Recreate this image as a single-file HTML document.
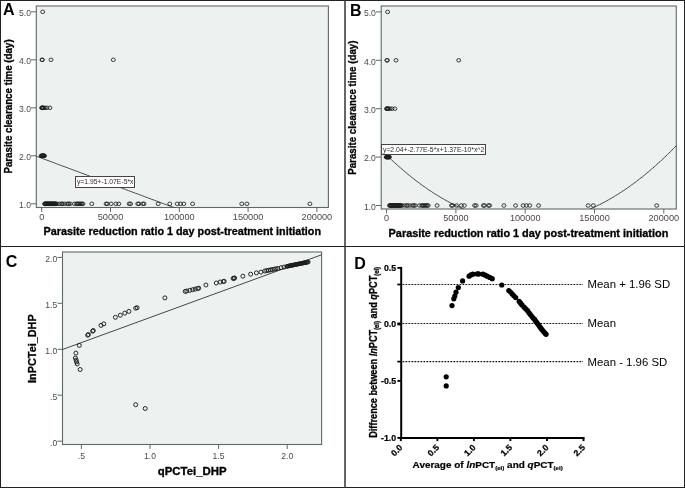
<!DOCTYPE html>
<html><head><meta charset="utf-8"><title>Figure</title>
<style>html,body{margin:0;padding:0;background:#fff;}body{width:685px;height:488px;position:relative;overflow:hidden;font-family:"Liberation Sans",sans-serif;}</style>
</head><body>
<svg width="685" height="488" viewBox="0 0 685 488" style="position:absolute;left:0;top:0;will-change:transform" font-family="Liberation Sans, sans-serif">
<rect x="0" y="0" width="685" height="488" fill="#fff"/>
<rect x="0.5" y="0.5" width="684" height="487" fill="none" stroke="#222" stroke-width="1"/>
<line x1="0" y1="246.5" x2="685" y2="246.5" stroke="#222" stroke-width="1"/>
<line x1="345.0" y1="0" x2="345.0" y2="488" stroke="#333" stroke-width="1.5"/>
<rect x="36.3" y="6.0" width="292.09999999999997" height="201.5" fill="#edf2f1" stroke="#5d686b" stroke-width="1.1"/>
<clipPath id="cpA"><rect x="36.3" y="6.0" width="292.09999999999997" height="201.5"/></clipPath>
<line x1="30.999999999999996" y1="203.8" x2="36.3" y2="203.8" stroke="#5d686b" stroke-width="1"/>
<text x="30.999999999999996" y="208.0" font-size="8.6" fill="#4a4a4a" text-anchor="end">1.0</text>
<line x1="30.999999999999996" y1="155.8" x2="36.3" y2="155.8" stroke="#5d686b" stroke-width="1"/>
<text x="30.999999999999996" y="160.0" font-size="8.6" fill="#4a4a4a" text-anchor="end">2.0</text>
<line x1="30.999999999999996" y1="107.8" x2="36.3" y2="107.8" stroke="#5d686b" stroke-width="1"/>
<text x="30.999999999999996" y="112.0" font-size="8.6" fill="#4a4a4a" text-anchor="end">3.0</text>
<line x1="30.999999999999996" y1="59.8" x2="36.3" y2="59.8" stroke="#5d686b" stroke-width="1"/>
<text x="30.999999999999996" y="64.0" font-size="8.6" fill="#4a4a4a" text-anchor="end">4.0</text>
<line x1="30.999999999999996" y1="11.8" x2="36.3" y2="11.8" stroke="#5d686b" stroke-width="1"/>
<text x="30.999999999999996" y="16.0" font-size="8.6" fill="#4a4a4a" text-anchor="end">5.0</text>
<line x1="41.7" y1="207.5" x2="41.7" y2="212.0" stroke="#5d686b" stroke-width="1"/>
<text transform="translate(41.7,219.9) scale(1.07,1)" font-size="8.6" fill="#4a4a4a" text-anchor="middle">0</text>
<line x1="110.5" y1="207.5" x2="110.5" y2="212.0" stroke="#5d686b" stroke-width="1"/>
<text transform="translate(110.5,219.9) scale(1.07,1)" font-size="8.6" fill="#4a4a4a" text-anchor="middle">50000</text>
<line x1="179.3" y1="207.5" x2="179.3" y2="212.0" stroke="#5d686b" stroke-width="1"/>
<text transform="translate(179.3,219.9) scale(1.07,1)" font-size="8.6" fill="#4a4a4a" text-anchor="middle">100000</text>
<line x1="248.1" y1="207.5" x2="248.1" y2="212.0" stroke="#5d686b" stroke-width="1"/>
<text transform="translate(248.1,219.9) scale(1.07,1)" font-size="8.6" fill="#4a4a4a" text-anchor="middle">150000</text>
<line x1="316.9" y1="207.5" x2="316.9" y2="212.0" stroke="#5d686b" stroke-width="1"/>
<text transform="translate(316.9,219.9) scale(1.07,1)" font-size="8.6" fill="#4a4a4a" text-anchor="middle">200000</text>
<polyline clip-path="url(#cpA)" points="36.3,156.2 37.8,156.7 39.2,157.3 40.7,157.8 42.1,158.4 43.6,158.9 45.1,159.5 46.5,160.0 48.0,160.5 49.4,161.1 50.9,161.6 52.4,162.2 53.8,162.7 55.3,163.3 56.7,163.8 58.2,164.4 59.7,164.9 61.1,165.5 62.6,166.0 64.0,166.5 65.5,167.1 67.0,167.6 68.4,168.2 69.9,168.7 71.4,169.3 72.8,169.8 74.3,170.4 75.7,170.9 77.2,171.4 78.7,172.0 80.1,172.5 81.6,173.1 83.0,173.6 84.5,174.2 86.0,174.7 87.4,175.3 88.9,175.8 90.3,176.4 91.8,176.9 93.3,177.4 94.7,178.0 96.2,178.5 97.6,179.1 99.1,179.6 100.6,180.2 102.0,180.7 103.5,181.3 104.9,181.8 106.4,182.4 107.9,182.9 109.3,183.4 110.8,184.0 112.2,184.5 113.7,185.1 115.2,185.6 116.6,186.2 118.1,186.7 119.5,187.3 121.0,187.8 122.5,188.3 123.9,188.9 125.4,189.4 126.9,190.0 128.3,190.5 129.8,191.1 131.2,191.6 132.7,192.2 134.2,192.7 135.6,193.3 137.1,193.8 138.5,194.3 140.0,194.9 141.5,195.4 142.9,196.0 144.4,196.5 145.8,197.1 147.3,197.6 148.8,198.2 150.2,198.7 151.7,199.3 153.1,199.8 154.6,200.3 156.1,200.9 157.5,201.4 159.0,202.0 160.4,202.5 161.9,203.1 163.4,203.6 164.8,204.2 166.3,204.7 167.7,205.2 169.2,205.8 170.7,206.3 172.1,206.9 173.6,207.4 175.0,208.0 176.5,208.5 178.0,209.1 179.4,209.6 180.9,210.2 182.4,210.7 183.8,211.2 185.3,211.8 186.7,212.3 188.2,212.9 189.7,213.4 191.1,214.0 192.6,214.5 194.0,215.1 195.5,215.6 197.0,216.1 198.4,216.7 199.9,217.2 201.3,217.8 202.8,218.3 204.3,218.9 205.7,219.4 207.2,220.0 208.6,220.5 210.1,221.1 211.6,221.6 213.0,222.1 214.5,222.7 215.9,223.2 217.4,223.8 218.9,224.3 220.3,224.9 221.8,225.4 223.2,226.0 224.7,226.5 226.2,227.1 227.6,227.6 229.1,228.1 230.5,228.7 232.0,229.2 233.5,229.8 234.9,230.3 236.4,230.9 237.8,231.4 239.3,232.0 240.8,232.5 242.2,233.0 243.7,233.6 245.2,234.1 246.6,234.7 248.1,235.2 249.5,235.8 251.0,236.3 252.5,236.9 253.9,237.4 255.4,238.0 256.8,238.5 258.3,239.0 259.8,239.6 261.2,240.1 262.7,240.7 264.1,241.2 265.6,241.8 267.1,242.3 268.5,242.9 270.0,243.4 271.4,244.0 272.9,244.5 274.4,245.0 275.8,245.6 277.3,246.1 278.7,246.7 280.2,247.2 281.7,247.8 283.1,248.3 284.6,248.9 286.0,249.4 287.5,249.9 289.0,250.5 290.4,251.0 291.9,251.6 293.3,252.1 294.8,252.7 296.3,253.2 297.7,253.8 299.2,254.3 300.7,254.9 302.1,255.4 303.6,255.9 305.0,256.5 306.5,257.0 308.0,257.6 309.4,258.1 310.9,258.7 312.3,259.2 313.8,259.8 315.3,260.3 316.7,260.9 318.2,261.4 319.6,261.9 321.1,262.5 322.6,263.0 324.0,263.6 325.5,264.1 326.9,264.7 328.4,265.2" fill="none" stroke="#333" stroke-width="0.9"/>
<ellipse cx="44.6" cy="203.8" rx="2.0" ry="1.75" fill="none" stroke="#1c1c1c" stroke-width="0.85"/>
<ellipse cx="45.1" cy="203.8" rx="2.0" ry="1.75" fill="none" stroke="#1c1c1c" stroke-width="0.85"/>
<ellipse cx="45.5" cy="203.8" rx="2.0" ry="1.75" fill="none" stroke="#1c1c1c" stroke-width="0.85"/>
<ellipse cx="46.0" cy="203.8" rx="2.0" ry="1.75" fill="none" stroke="#1c1c1c" stroke-width="0.85"/>
<ellipse cx="46.4" cy="203.8" rx="2.0" ry="1.75" fill="none" stroke="#1c1c1c" stroke-width="0.85"/>
<ellipse cx="46.9" cy="203.8" rx="2.0" ry="1.75" fill="none" stroke="#1c1c1c" stroke-width="0.85"/>
<ellipse cx="47.3" cy="203.8" rx="2.0" ry="1.75" fill="none" stroke="#1c1c1c" stroke-width="0.85"/>
<ellipse cx="47.8" cy="203.8" rx="2.0" ry="1.75" fill="none" stroke="#1c1c1c" stroke-width="0.85"/>
<ellipse cx="48.2" cy="203.8" rx="2.0" ry="1.75" fill="none" stroke="#1c1c1c" stroke-width="0.85"/>
<ellipse cx="48.6" cy="203.8" rx="2.0" ry="1.75" fill="none" stroke="#1c1c1c" stroke-width="0.85"/>
<ellipse cx="49.1" cy="203.8" rx="2.0" ry="1.75" fill="none" stroke="#1c1c1c" stroke-width="0.85"/>
<ellipse cx="49.6" cy="203.8" rx="2.0" ry="1.75" fill="none" stroke="#1c1c1c" stroke-width="0.85"/>
<ellipse cx="50.0" cy="203.8" rx="2.0" ry="1.75" fill="none" stroke="#1c1c1c" stroke-width="0.85"/>
<ellipse cx="50.5" cy="203.8" rx="2.0" ry="1.75" fill="none" stroke="#1c1c1c" stroke-width="0.85"/>
<ellipse cx="50.9" cy="203.8" rx="2.0" ry="1.75" fill="none" stroke="#1c1c1c" stroke-width="0.85"/>
<ellipse cx="51.4" cy="203.8" rx="2.0" ry="1.75" fill="none" stroke="#1c1c1c" stroke-width="0.85"/>
<ellipse cx="51.8" cy="203.8" rx="2.0" ry="1.75" fill="none" stroke="#1c1c1c" stroke-width="0.85"/>
<ellipse cx="52.2" cy="203.8" rx="2.0" ry="1.75" fill="none" stroke="#1c1c1c" stroke-width="0.85"/>
<ellipse cx="52.7" cy="203.8" rx="2.0" ry="1.75" fill="none" stroke="#1c1c1c" stroke-width="0.85"/>
<ellipse cx="53.2" cy="203.8" rx="2.0" ry="1.75" fill="none" stroke="#1c1c1c" stroke-width="0.85"/>
<ellipse cx="53.6" cy="203.8" rx="2.0" ry="1.75" fill="none" stroke="#1c1c1c" stroke-width="0.85"/>
<ellipse cx="54.1" cy="203.8" rx="2.0" ry="1.75" fill="none" stroke="#1c1c1c" stroke-width="0.85"/>
<ellipse cx="54.5" cy="203.8" rx="2.0" ry="1.75" fill="none" stroke="#1c1c1c" stroke-width="0.85"/>
<ellipse cx="55.0" cy="203.8" rx="2.0" ry="1.75" fill="none" stroke="#1c1c1c" stroke-width="0.85"/>
<ellipse cx="55.4" cy="203.8" rx="2.0" ry="1.75" fill="none" stroke="#1c1c1c" stroke-width="0.85"/>
<ellipse cx="55.9" cy="203.8" rx="2.0" ry="1.75" fill="none" stroke="#1c1c1c" stroke-width="0.85"/>
<ellipse cx="57.0" cy="203.8" rx="2.0" ry="1.75" fill="none" stroke="#1c1c1c" stroke-width="0.85"/>
<ellipse cx="59.5" cy="203.8" rx="2.0" ry="1.75" fill="none" stroke="#1c1c1c" stroke-width="0.85"/>
<ellipse cx="61.6" cy="203.8" rx="2.0" ry="1.75" fill="none" stroke="#1c1c1c" stroke-width="0.85"/>
<ellipse cx="62.5" cy="203.8" rx="2.0" ry="1.75" fill="none" stroke="#1c1c1c" stroke-width="0.85"/>
<ellipse cx="64.7" cy="203.8" rx="2.0" ry="1.75" fill="none" stroke="#1c1c1c" stroke-width="0.85"/>
<ellipse cx="67.5" cy="203.8" rx="2.0" ry="1.75" fill="none" stroke="#1c1c1c" stroke-width="0.85"/>
<ellipse cx="68.7" cy="203.8" rx="2.0" ry="1.75" fill="none" stroke="#1c1c1c" stroke-width="0.85"/>
<ellipse cx="70.2" cy="203.8" rx="2.0" ry="1.75" fill="none" stroke="#1c1c1c" stroke-width="0.85"/>
<ellipse cx="74.4" cy="203.8" rx="2.0" ry="1.75" fill="none" stroke="#1c1c1c" stroke-width="0.85"/>
<ellipse cx="76.5" cy="203.8" rx="2.0" ry="1.75" fill="none" stroke="#1c1c1c" stroke-width="0.85"/>
<ellipse cx="77.5" cy="203.8" rx="2.0" ry="1.75" fill="none" stroke="#1c1c1c" stroke-width="0.85"/>
<ellipse cx="78.7" cy="203.8" rx="2.0" ry="1.75" fill="none" stroke="#1c1c1c" stroke-width="0.85"/>
<ellipse cx="79.8" cy="203.8" rx="2.0" ry="1.75" fill="none" stroke="#1c1c1c" stroke-width="0.85"/>
<ellipse cx="81.0" cy="203.8" rx="2.0" ry="1.75" fill="none" stroke="#1c1c1c" stroke-width="0.85"/>
<ellipse cx="82.0" cy="203.8" rx="2.0" ry="1.75" fill="none" stroke="#1c1c1c" stroke-width="0.85"/>
<ellipse cx="82.9" cy="203.8" rx="2.0" ry="1.75" fill="none" stroke="#1c1c1c" stroke-width="0.85"/>
<ellipse cx="91.8" cy="203.8" rx="2.0" ry="1.75" fill="none" stroke="#1c1c1c" stroke-width="0.85"/>
<ellipse cx="106.1" cy="203.8" rx="2.0" ry="1.75" fill="none" stroke="#1c1c1c" stroke-width="0.85"/>
<ellipse cx="107.2" cy="203.8" rx="2.0" ry="1.75" fill="none" stroke="#1c1c1c" stroke-width="0.85"/>
<ellipse cx="111.1" cy="203.8" rx="2.0" ry="1.75" fill="none" stroke="#1c1c1c" stroke-width="0.85"/>
<ellipse cx="115.9" cy="203.8" rx="2.0" ry="1.75" fill="none" stroke="#1c1c1c" stroke-width="0.85"/>
<ellipse cx="118.8" cy="203.8" rx="2.0" ry="1.75" fill="none" stroke="#1c1c1c" stroke-width="0.85"/>
<ellipse cx="129.1" cy="203.8" rx="2.0" ry="1.75" fill="none" stroke="#1c1c1c" stroke-width="0.85"/>
<ellipse cx="130.6" cy="203.8" rx="2.0" ry="1.75" fill="none" stroke="#1c1c1c" stroke-width="0.85"/>
<ellipse cx="137.8" cy="203.8" rx="2.0" ry="1.75" fill="none" stroke="#1c1c1c" stroke-width="0.85"/>
<ellipse cx="138.9" cy="203.8" rx="2.0" ry="1.75" fill="none" stroke="#1c1c1c" stroke-width="0.85"/>
<ellipse cx="142.9" cy="203.8" rx="2.0" ry="1.75" fill="none" stroke="#1c1c1c" stroke-width="0.85"/>
<ellipse cx="144.0" cy="203.8" rx="2.0" ry="1.75" fill="none" stroke="#1c1c1c" stroke-width="0.85"/>
<ellipse cx="158.2" cy="203.8" rx="2.0" ry="1.75" fill="none" stroke="#1c1c1c" stroke-width="0.85"/>
<ellipse cx="169.8" cy="203.8" rx="2.0" ry="1.75" fill="none" stroke="#1c1c1c" stroke-width="0.85"/>
<ellipse cx="177.2" cy="203.8" rx="2.0" ry="1.75" fill="none" stroke="#1c1c1c" stroke-width="0.85"/>
<ellipse cx="180.5" cy="203.8" rx="2.0" ry="1.75" fill="none" stroke="#1c1c1c" stroke-width="0.85"/>
<ellipse cx="183.8" cy="203.8" rx="2.0" ry="1.75" fill="none" stroke="#1c1c1c" stroke-width="0.85"/>
<ellipse cx="192.6" cy="203.8" rx="2.0" ry="1.75" fill="none" stroke="#1c1c1c" stroke-width="0.85"/>
<ellipse cx="241.8" cy="203.8" rx="2.0" ry="1.75" fill="none" stroke="#1c1c1c" stroke-width="0.85"/>
<ellipse cx="246.9" cy="203.8" rx="2.0" ry="1.75" fill="none" stroke="#1c1c1c" stroke-width="0.85"/>
<ellipse cx="309.9" cy="203.8" rx="2.0" ry="1.75" fill="none" stroke="#1c1c1c" stroke-width="0.85"/>
<ellipse cx="41.3" cy="155.8" rx="2.0" ry="1.75" fill="none" stroke="#1c1c1c" stroke-width="0.85"/>
<ellipse cx="41.6" cy="155.8" rx="2.0" ry="1.75" fill="none" stroke="#1c1c1c" stroke-width="0.85"/>
<ellipse cx="42.0" cy="155.8" rx="2.0" ry="1.75" fill="none" stroke="#1c1c1c" stroke-width="0.85"/>
<ellipse cx="42.3" cy="155.8" rx="2.0" ry="1.75" fill="none" stroke="#1c1c1c" stroke-width="0.85"/>
<ellipse cx="42.7" cy="155.8" rx="2.0" ry="1.75" fill="none" stroke="#1c1c1c" stroke-width="0.85"/>
<ellipse cx="43.0" cy="155.8" rx="2.0" ry="1.75" fill="none" stroke="#1c1c1c" stroke-width="0.85"/>
<ellipse cx="43.4" cy="155.8" rx="2.0" ry="1.75" fill="none" stroke="#1c1c1c" stroke-width="0.85"/>
<ellipse cx="43.8" cy="155.8" rx="2.0" ry="1.75" fill="none" stroke="#1c1c1c" stroke-width="0.85"/>
<ellipse cx="44.1" cy="155.8" rx="2.0" ry="1.75" fill="none" stroke="#1c1c1c" stroke-width="0.85"/>
<ellipse cx="44.4" cy="155.8" rx="2.0" ry="1.75" fill="none" stroke="#1c1c1c" stroke-width="0.85"/>
<ellipse cx="41.7" cy="107.8" rx="2.0" ry="1.75" fill="none" stroke="#1c1c1c" stroke-width="0.85"/>
<ellipse cx="42.1" cy="107.8" rx="2.0" ry="1.75" fill="none" stroke="#1c1c1c" stroke-width="0.85"/>
<ellipse cx="42.5" cy="107.8" rx="2.0" ry="1.75" fill="none" stroke="#1c1c1c" stroke-width="0.85"/>
<ellipse cx="42.9" cy="107.8" rx="2.0" ry="1.75" fill="none" stroke="#1c1c1c" stroke-width="0.85"/>
<ellipse cx="43.3" cy="107.8" rx="2.0" ry="1.75" fill="none" stroke="#1c1c1c" stroke-width="0.85"/>
<ellipse cx="44.9" cy="107.8" rx="2.0" ry="1.75" fill="none" stroke="#1c1c1c" stroke-width="0.85"/>
<ellipse cx="47.0" cy="107.8" rx="2.0" ry="1.75" fill="none" stroke="#1c1c1c" stroke-width="0.85"/>
<ellipse cx="49.9" cy="107.8" rx="2.0" ry="1.75" fill="none" stroke="#1c1c1c" stroke-width="0.85"/>
<ellipse cx="42.0" cy="59.8" rx="2.0" ry="1.75" fill="none" stroke="#1c1c1c" stroke-width="0.85"/>
<ellipse cx="42.4" cy="59.8" rx="2.0" ry="1.75" fill="none" stroke="#1c1c1c" stroke-width="0.85"/>
<ellipse cx="51.0" cy="59.8" rx="2.0" ry="1.75" fill="none" stroke="#1c1c1c" stroke-width="0.85"/>
<ellipse cx="113.3" cy="59.8" rx="2.0" ry="1.75" fill="none" stroke="#1c1c1c" stroke-width="0.85"/>
<ellipse cx="42.7" cy="11.8" rx="2.0" ry="1.75" fill="none" stroke="#1c1c1c" stroke-width="0.85"/>
<text x="3" y="15.2" font-size="16" font-weight="bold" fill="#000">A</text>
<text transform="translate(43.60,234.90) scale(1.0798,1) translate(-0.00,0)" font-size="10.0" font-weight="bold" stroke="#000" stroke-width="0.3" fill="#000">Parasite reduction ratio 1 day post-treatment initiation</text>
<text transform="translate(11.80,173.60) rotate(-90) scale(0.9466,1) translate(-0.00,0)" font-size="10.3" font-weight="bold" stroke="#000" stroke-width="0.3" fill="#000">Parasite clearance time (day)</text>
<rect x="75.5" y="176.5" width="59" height="11" fill="#fff" stroke="#444" stroke-width="1"/>
<text transform="translate(76.90,184.40) scale(0.9999,1) translate(-0.00,0)" font-size="6.8" fill="#2a2a2a">y=1.95+-1.07E-5*x</text>
<rect x="381.2" y="6.0" width="295.09999999999997" height="203.0" fill="#edf2f1" stroke="#5d686b" stroke-width="1.1"/>
<clipPath id="cpB"><rect x="381.2" y="6.0" width="295.09999999999997" height="203.0"/></clipPath>
<line x1="375.9" y1="205.5" x2="381.2" y2="205.5" stroke="#5d686b" stroke-width="1"/>
<text x="375.9" y="209.7" font-size="8.6" fill="#4a4a4a" text-anchor="end">1.0</text>
<line x1="375.9" y1="157.1" x2="381.2" y2="157.1" stroke="#5d686b" stroke-width="1"/>
<text x="375.9" y="161.3" font-size="8.6" fill="#4a4a4a" text-anchor="end">2.0</text>
<line x1="375.9" y1="108.7" x2="381.2" y2="108.7" stroke="#5d686b" stroke-width="1"/>
<text x="375.9" y="112.9" font-size="8.6" fill="#4a4a4a" text-anchor="end">3.0</text>
<line x1="375.9" y1="60.3" x2="381.2" y2="60.3" stroke="#5d686b" stroke-width="1"/>
<text x="375.9" y="64.5" font-size="8.6" fill="#4a4a4a" text-anchor="end">4.0</text>
<line x1="375.9" y1="11.9" x2="381.2" y2="11.9" stroke="#5d686b" stroke-width="1"/>
<text x="375.9" y="16.1" font-size="8.6" fill="#4a4a4a" text-anchor="end">5.0</text>
<line x1="386.6" y1="209" x2="386.6" y2="213.5" stroke="#5d686b" stroke-width="1"/>
<text transform="translate(386.6,221.4) scale(1.07,1)" font-size="8.6" fill="#4a4a4a" text-anchor="middle">0</text>
<line x1="455.9" y1="209" x2="455.9" y2="213.5" stroke="#5d686b" stroke-width="1"/>
<text transform="translate(455.9,221.4) scale(1.07,1)" font-size="8.6" fill="#4a4a4a" text-anchor="middle">50000</text>
<line x1="525.2" y1="209" x2="525.2" y2="213.5" stroke="#5d686b" stroke-width="1"/>
<text transform="translate(525.2,221.4) scale(1.07,1)" font-size="8.6" fill="#4a4a4a" text-anchor="middle">100000</text>
<line x1="594.5" y1="209" x2="594.5" y2="213.5" stroke="#5d686b" stroke-width="1"/>
<text transform="translate(594.5,221.4) scale(1.07,1)" font-size="8.6" fill="#4a4a4a" text-anchor="middle">150000</text>
<line x1="663.8" y1="209" x2="663.8" y2="213.5" stroke="#5d686b" stroke-width="1"/>
<text transform="translate(663.8,221.4) scale(1.07,1)" font-size="8.6" fill="#4a4a4a" text-anchor="middle">200000</text>
<polyline clip-path="url(#cpB)" points="381.2,149.8 382.7,151.3 384.2,152.8 385.6,154.2 387.1,155.6 388.6,157.1 390.1,158.5 391.5,159.8 393.0,161.2 394.5,162.6 396.0,163.9 397.4,165.2 398.9,166.5 400.4,167.8 401.9,169.1 403.3,170.4 404.8,171.6 406.3,172.9 407.8,174.1 409.2,175.3 410.7,176.5 412.2,177.7 413.7,178.8 415.1,180.0 416.6,181.1 418.1,182.2 419.6,183.3 421.0,184.4 422.5,185.5 424.0,186.5 425.5,187.5 426.9,188.6 428.4,189.6 429.9,190.6 431.4,191.5 432.8,192.5 434.3,193.5 435.8,194.4 437.3,195.3 438.7,196.2 440.2,197.1 441.7,198.0 443.2,198.8 444.6,199.7 446.1,200.5 447.6,201.3 449.1,202.1 450.5,202.9 452.0,203.7 453.5,204.4 455.0,205.2 456.5,205.9 457.9,206.6 459.4,207.3 460.9,208.0 462.4,208.6 463.8,209.3 465.3,209.9 466.8,210.5 468.3,211.1 469.7,211.7 471.2,212.3 472.7,212.9 474.2,213.4 475.6,213.9 477.1,214.4 478.6,214.9 480.1,215.4 481.5,215.9 483.0,216.3 484.5,216.8 486.0,217.2 487.4,217.6 488.9,218.0 490.4,218.4 491.9,218.7 493.3,219.1 494.8,219.4 496.3,219.7 497.8,220.0 499.2,220.3 500.7,220.6 502.2,220.9 503.7,221.1 505.1,221.3 506.6,221.5 508.1,221.7 509.6,221.9 511.0,222.1 512.5,222.2 514.0,222.4 515.5,222.5 516.9,222.6 518.4,222.7 519.9,222.8 521.4,222.8 522.8,222.9 524.3,222.9 525.8,222.9 527.3,222.9 528.8,222.9 530.2,222.9 531.7,222.8 533.2,222.8 534.7,222.7 536.1,222.6 537.6,222.5 539.1,222.4 540.6,222.3 542.0,222.1 543.5,222.0 545.0,221.8 546.5,221.6 547.9,221.4 549.4,221.2 550.9,220.9 552.4,220.7 553.8,220.4 555.3,220.1 556.8,219.8 558.3,219.5 559.7,219.2 561.2,218.8 562.7,218.5 564.2,218.1 565.6,217.7 567.1,217.3 568.6,216.9 570.1,216.4 571.5,216.0 573.0,215.5 574.5,215.1 576.0,214.6 577.4,214.1 578.9,213.5 580.4,213.0 581.9,212.4 583.3,211.9 584.8,211.3 586.3,210.7 587.8,210.1 589.2,209.4 590.7,208.8 592.2,208.1 593.7,207.5 595.1,206.8 596.6,206.1 598.1,205.3 599.6,204.6 601.0,203.9 602.5,203.1 604.0,202.3 605.5,201.5 607.0,200.7 608.4,199.9 609.9,199.0 611.4,198.2 612.9,197.3 614.3,196.4 615.8,195.5 617.3,194.6 618.8,193.7 620.2,192.7 621.7,191.8 623.2,190.8 624.7,189.8 626.1,188.8 627.6,187.8 629.1,186.8 630.6,185.7 632.0,184.6 633.5,183.6 635.0,182.5 636.5,181.4 637.9,180.2 639.4,179.1 640.9,177.9 642.4,176.8 643.8,175.6 645.3,174.4 646.8,173.2 648.3,171.9 649.7,170.7 651.2,169.4 652.7,168.2 654.2,166.9 655.6,165.6 657.1,164.2 658.6,162.9 660.1,161.6 661.5,160.2 663.0,158.8 664.5,157.4 666.0,156.0 667.4,154.6 668.9,153.1 670.4,151.7 671.9,150.2 673.3,148.7 674.8,147.2 676.3,145.7" fill="none" stroke="#333" stroke-width="0.9"/>
<ellipse cx="389.5" cy="205.5" rx="2.0" ry="1.75" fill="none" stroke="#1c1c1c" stroke-width="0.85"/>
<ellipse cx="390.0" cy="205.5" rx="2.0" ry="1.75" fill="none" stroke="#1c1c1c" stroke-width="0.85"/>
<ellipse cx="390.4" cy="205.5" rx="2.0" ry="1.75" fill="none" stroke="#1c1c1c" stroke-width="0.85"/>
<ellipse cx="390.9" cy="205.5" rx="2.0" ry="1.75" fill="none" stroke="#1c1c1c" stroke-width="0.85"/>
<ellipse cx="391.3" cy="205.5" rx="2.0" ry="1.75" fill="none" stroke="#1c1c1c" stroke-width="0.85"/>
<ellipse cx="391.8" cy="205.5" rx="2.0" ry="1.75" fill="none" stroke="#1c1c1c" stroke-width="0.85"/>
<ellipse cx="392.2" cy="205.5" rx="2.0" ry="1.75" fill="none" stroke="#1c1c1c" stroke-width="0.85"/>
<ellipse cx="392.7" cy="205.5" rx="2.0" ry="1.75" fill="none" stroke="#1c1c1c" stroke-width="0.85"/>
<ellipse cx="393.1" cy="205.5" rx="2.0" ry="1.75" fill="none" stroke="#1c1c1c" stroke-width="0.85"/>
<ellipse cx="393.6" cy="205.5" rx="2.0" ry="1.75" fill="none" stroke="#1c1c1c" stroke-width="0.85"/>
<ellipse cx="394.1" cy="205.5" rx="2.0" ry="1.75" fill="none" stroke="#1c1c1c" stroke-width="0.85"/>
<ellipse cx="394.5" cy="205.5" rx="2.0" ry="1.75" fill="none" stroke="#1c1c1c" stroke-width="0.85"/>
<ellipse cx="395.0" cy="205.5" rx="2.0" ry="1.75" fill="none" stroke="#1c1c1c" stroke-width="0.85"/>
<ellipse cx="395.4" cy="205.5" rx="2.0" ry="1.75" fill="none" stroke="#1c1c1c" stroke-width="0.85"/>
<ellipse cx="395.9" cy="205.5" rx="2.0" ry="1.75" fill="none" stroke="#1c1c1c" stroke-width="0.85"/>
<ellipse cx="396.3" cy="205.5" rx="2.0" ry="1.75" fill="none" stroke="#1c1c1c" stroke-width="0.85"/>
<ellipse cx="396.8" cy="205.5" rx="2.0" ry="1.75" fill="none" stroke="#1c1c1c" stroke-width="0.85"/>
<ellipse cx="397.2" cy="205.5" rx="2.0" ry="1.75" fill="none" stroke="#1c1c1c" stroke-width="0.85"/>
<ellipse cx="397.7" cy="205.5" rx="2.0" ry="1.75" fill="none" stroke="#1c1c1c" stroke-width="0.85"/>
<ellipse cx="398.1" cy="205.5" rx="2.0" ry="1.75" fill="none" stroke="#1c1c1c" stroke-width="0.85"/>
<ellipse cx="398.6" cy="205.5" rx="2.0" ry="1.75" fill="none" stroke="#1c1c1c" stroke-width="0.85"/>
<ellipse cx="399.0" cy="205.5" rx="2.0" ry="1.75" fill="none" stroke="#1c1c1c" stroke-width="0.85"/>
<ellipse cx="399.5" cy="205.5" rx="2.0" ry="1.75" fill="none" stroke="#1c1c1c" stroke-width="0.85"/>
<ellipse cx="399.9" cy="205.5" rx="2.0" ry="1.75" fill="none" stroke="#1c1c1c" stroke-width="0.85"/>
<ellipse cx="400.4" cy="205.5" rx="2.0" ry="1.75" fill="none" stroke="#1c1c1c" stroke-width="0.85"/>
<ellipse cx="400.9" cy="205.5" rx="2.0" ry="1.75" fill="none" stroke="#1c1c1c" stroke-width="0.85"/>
<ellipse cx="402.0" cy="205.5" rx="2.0" ry="1.75" fill="none" stroke="#1c1c1c" stroke-width="0.85"/>
<ellipse cx="404.5" cy="205.5" rx="2.0" ry="1.75" fill="none" stroke="#1c1c1c" stroke-width="0.85"/>
<ellipse cx="406.6" cy="205.5" rx="2.0" ry="1.75" fill="none" stroke="#1c1c1c" stroke-width="0.85"/>
<ellipse cx="407.6" cy="205.5" rx="2.0" ry="1.75" fill="none" stroke="#1c1c1c" stroke-width="0.85"/>
<ellipse cx="409.8" cy="205.5" rx="2.0" ry="1.75" fill="none" stroke="#1c1c1c" stroke-width="0.85"/>
<ellipse cx="412.6" cy="205.5" rx="2.0" ry="1.75" fill="none" stroke="#1c1c1c" stroke-width="0.85"/>
<ellipse cx="413.8" cy="205.5" rx="2.0" ry="1.75" fill="none" stroke="#1c1c1c" stroke-width="0.85"/>
<ellipse cx="415.3" cy="205.5" rx="2.0" ry="1.75" fill="none" stroke="#1c1c1c" stroke-width="0.85"/>
<ellipse cx="419.5" cy="205.5" rx="2.0" ry="1.75" fill="none" stroke="#1c1c1c" stroke-width="0.85"/>
<ellipse cx="421.7" cy="205.5" rx="2.0" ry="1.75" fill="none" stroke="#1c1c1c" stroke-width="0.85"/>
<ellipse cx="422.7" cy="205.5" rx="2.0" ry="1.75" fill="none" stroke="#1c1c1c" stroke-width="0.85"/>
<ellipse cx="423.9" cy="205.5" rx="2.0" ry="1.75" fill="none" stroke="#1c1c1c" stroke-width="0.85"/>
<ellipse cx="425.0" cy="205.5" rx="2.0" ry="1.75" fill="none" stroke="#1c1c1c" stroke-width="0.85"/>
<ellipse cx="426.2" cy="205.5" rx="2.0" ry="1.75" fill="none" stroke="#1c1c1c" stroke-width="0.85"/>
<ellipse cx="427.2" cy="205.5" rx="2.0" ry="1.75" fill="none" stroke="#1c1c1c" stroke-width="0.85"/>
<ellipse cx="428.1" cy="205.5" rx="2.0" ry="1.75" fill="none" stroke="#1c1c1c" stroke-width="0.85"/>
<ellipse cx="437.1" cy="205.5" rx="2.0" ry="1.75" fill="none" stroke="#1c1c1c" stroke-width="0.85"/>
<ellipse cx="451.5" cy="205.5" rx="2.0" ry="1.75" fill="none" stroke="#1c1c1c" stroke-width="0.85"/>
<ellipse cx="452.6" cy="205.5" rx="2.0" ry="1.75" fill="none" stroke="#1c1c1c" stroke-width="0.85"/>
<ellipse cx="456.5" cy="205.5" rx="2.0" ry="1.75" fill="none" stroke="#1c1c1c" stroke-width="0.85"/>
<ellipse cx="461.3" cy="205.5" rx="2.0" ry="1.75" fill="none" stroke="#1c1c1c" stroke-width="0.85"/>
<ellipse cx="464.3" cy="205.5" rx="2.0" ry="1.75" fill="none" stroke="#1c1c1c" stroke-width="0.85"/>
<ellipse cx="474.6" cy="205.5" rx="2.0" ry="1.75" fill="none" stroke="#1c1c1c" stroke-width="0.85"/>
<ellipse cx="476.1" cy="205.5" rx="2.0" ry="1.75" fill="none" stroke="#1c1c1c" stroke-width="0.85"/>
<ellipse cx="483.4" cy="205.5" rx="2.0" ry="1.75" fill="none" stroke="#1c1c1c" stroke-width="0.85"/>
<ellipse cx="484.5" cy="205.5" rx="2.0" ry="1.75" fill="none" stroke="#1c1c1c" stroke-width="0.85"/>
<ellipse cx="488.5" cy="205.5" rx="2.0" ry="1.75" fill="none" stroke="#1c1c1c" stroke-width="0.85"/>
<ellipse cx="489.6" cy="205.5" rx="2.0" ry="1.75" fill="none" stroke="#1c1c1c" stroke-width="0.85"/>
<ellipse cx="503.9" cy="205.5" rx="2.0" ry="1.75" fill="none" stroke="#1c1c1c" stroke-width="0.85"/>
<ellipse cx="515.6" cy="205.5" rx="2.0" ry="1.75" fill="none" stroke="#1c1c1c" stroke-width="0.85"/>
<ellipse cx="523.1" cy="205.5" rx="2.0" ry="1.75" fill="none" stroke="#1c1c1c" stroke-width="0.85"/>
<ellipse cx="526.4" cy="205.5" rx="2.0" ry="1.75" fill="none" stroke="#1c1c1c" stroke-width="0.85"/>
<ellipse cx="529.7" cy="205.5" rx="2.0" ry="1.75" fill="none" stroke="#1c1c1c" stroke-width="0.85"/>
<ellipse cx="538.6" cy="205.5" rx="2.0" ry="1.75" fill="none" stroke="#1c1c1c" stroke-width="0.85"/>
<ellipse cx="588.2" cy="205.5" rx="2.0" ry="1.75" fill="none" stroke="#1c1c1c" stroke-width="0.85"/>
<ellipse cx="593.3" cy="205.5" rx="2.0" ry="1.75" fill="none" stroke="#1c1c1c" stroke-width="0.85"/>
<ellipse cx="656.7" cy="205.5" rx="2.0" ry="1.75" fill="none" stroke="#1c1c1c" stroke-width="0.85"/>
<ellipse cx="386.2" cy="157.1" rx="2.0" ry="1.75" fill="none" stroke="#1c1c1c" stroke-width="0.85"/>
<ellipse cx="386.5" cy="157.1" rx="2.0" ry="1.75" fill="none" stroke="#1c1c1c" stroke-width="0.85"/>
<ellipse cx="386.9" cy="157.1" rx="2.0" ry="1.75" fill="none" stroke="#1c1c1c" stroke-width="0.85"/>
<ellipse cx="387.3" cy="157.1" rx="2.0" ry="1.75" fill="none" stroke="#1c1c1c" stroke-width="0.85"/>
<ellipse cx="387.6" cy="157.1" rx="2.0" ry="1.75" fill="none" stroke="#1c1c1c" stroke-width="0.85"/>
<ellipse cx="388.0" cy="157.1" rx="2.0" ry="1.75" fill="none" stroke="#1c1c1c" stroke-width="0.85"/>
<ellipse cx="388.3" cy="157.1" rx="2.0" ry="1.75" fill="none" stroke="#1c1c1c" stroke-width="0.85"/>
<ellipse cx="388.7" cy="157.1" rx="2.0" ry="1.75" fill="none" stroke="#1c1c1c" stroke-width="0.85"/>
<ellipse cx="389.0" cy="157.1" rx="2.0" ry="1.75" fill="none" stroke="#1c1c1c" stroke-width="0.85"/>
<ellipse cx="389.4" cy="157.1" rx="2.0" ry="1.75" fill="none" stroke="#1c1c1c" stroke-width="0.85"/>
<ellipse cx="386.6" cy="108.7" rx="2.0" ry="1.75" fill="none" stroke="#1c1c1c" stroke-width="0.85"/>
<ellipse cx="387.0" cy="108.7" rx="2.0" ry="1.75" fill="none" stroke="#1c1c1c" stroke-width="0.85"/>
<ellipse cx="387.4" cy="108.7" rx="2.0" ry="1.75" fill="none" stroke="#1c1c1c" stroke-width="0.85"/>
<ellipse cx="387.8" cy="108.7" rx="2.0" ry="1.75" fill="none" stroke="#1c1c1c" stroke-width="0.85"/>
<ellipse cx="388.2" cy="108.7" rx="2.0" ry="1.75" fill="none" stroke="#1c1c1c" stroke-width="0.85"/>
<ellipse cx="389.8" cy="108.7" rx="2.0" ry="1.75" fill="none" stroke="#1c1c1c" stroke-width="0.85"/>
<ellipse cx="391.9" cy="108.7" rx="2.0" ry="1.75" fill="none" stroke="#1c1c1c" stroke-width="0.85"/>
<ellipse cx="394.9" cy="108.7" rx="2.0" ry="1.75" fill="none" stroke="#1c1c1c" stroke-width="0.85"/>
<ellipse cx="386.9" cy="60.3" rx="2.0" ry="1.75" fill="none" stroke="#1c1c1c" stroke-width="0.85"/>
<ellipse cx="387.3" cy="60.3" rx="2.0" ry="1.75" fill="none" stroke="#1c1c1c" stroke-width="0.85"/>
<ellipse cx="396.0" cy="60.3" rx="2.0" ry="1.75" fill="none" stroke="#1c1c1c" stroke-width="0.85"/>
<ellipse cx="458.7" cy="60.3" rx="2.0" ry="1.75" fill="none" stroke="#1c1c1c" stroke-width="0.85"/>
<ellipse cx="387.6" cy="11.9" rx="2.0" ry="1.75" fill="none" stroke="#1c1c1c" stroke-width="0.85"/>
<text x="350" y="16.2" font-size="16" font-weight="bold" fill="#000">B</text>
<text transform="translate(388.60,236.50) scale(1.0887,1) translate(-0.00,0)" font-size="10.0" font-weight="bold" stroke="#000" stroke-width="0.3" fill="#000">Parasite reduction ratio 1 day post-treatment initiation</text>
<text transform="translate(355.70,174.80) rotate(-90) scale(0.9480,1) translate(-0.00,0)" font-size="10.3" font-weight="bold" stroke="#000" stroke-width="0.3" fill="#000">Parasite clearance time (day)</text>
<rect x="381.5" y="144.5" width="104" height="10" fill="#fff" stroke="#444" stroke-width="1"/>
<text transform="translate(383.00,151.80) scale(1.0001,1) translate(-0.00,0)" font-size="6.8" fill="#2a2a2a">y=2.04+-2.77E-5*x+1.37E-10*x^2</text>
<rect x="62.5" y="252" width="259.1" height="192.5" fill="#edf2f1" stroke="#5d686b" stroke-width="1.1"/>
<line x1="57.5" y1="441.2" x2="62.5" y2="441.2" stroke="#5d686b" stroke-width="1"/>
<text transform="translate(57.2,445.8) scale(1,1.08)" font-size="8.6" fill="#4a4a4a" text-anchor="end">.0</text>
<line x1="57.5" y1="395.2" x2="62.5" y2="395.2" stroke="#5d686b" stroke-width="1"/>
<text transform="translate(57.2,399.9) scale(1,1.08)" font-size="8.6" fill="#4a4a4a" text-anchor="end">.5</text>
<line x1="57.5" y1="349.3" x2="62.5" y2="349.3" stroke="#5d686b" stroke-width="1"/>
<text transform="translate(57.2,353.9) scale(1,1.08)" font-size="8.6" fill="#4a4a4a" text-anchor="end">1.0</text>
<line x1="57.5" y1="303.3" x2="62.5" y2="303.3" stroke="#5d686b" stroke-width="1"/>
<text transform="translate(57.2,307.9) scale(1,1.08)" font-size="8.6" fill="#4a4a4a" text-anchor="end">1.5</text>
<line x1="57.5" y1="257.4" x2="62.5" y2="257.4" stroke="#5d686b" stroke-width="1"/>
<text transform="translate(57.2,262.0) scale(1,1.08)" font-size="8.6" fill="#4a4a4a" text-anchor="end">2.0</text>
<line x1="81.4" y1="444.5" x2="81.4" y2="449.0" stroke="#5d686b" stroke-width="1"/>
<text transform="translate(81.4,458.7) scale(1,1.1)" font-size="8.6" fill="#4a4a4a" text-anchor="middle">.5</text>
<line x1="150.0" y1="444.5" x2="150.0" y2="449.0" stroke="#5d686b" stroke-width="1"/>
<text transform="translate(150.0,458.7) scale(1,1.1)" font-size="8.6" fill="#4a4a4a" text-anchor="middle">1.0</text>
<line x1="218.6" y1="444.5" x2="218.6" y2="449.0" stroke="#5d686b" stroke-width="1"/>
<text transform="translate(218.6,458.7) scale(1,1.1)" font-size="8.6" fill="#4a4a4a" text-anchor="middle">1.5</text>
<line x1="287.2" y1="444.5" x2="287.2" y2="449.0" stroke="#5d686b" stroke-width="1"/>
<text transform="translate(287.2,458.7) scale(1,1.1)" font-size="8.6" fill="#4a4a4a" text-anchor="middle">2.0</text>
<line x1="62.5" y1="349.5" x2="321.6" y2="254.8" stroke="#333" stroke-width="0.9"/>
<ellipse cx="286.6" cy="266.4" rx="1.8" ry="1.8" fill="none" stroke="#1c1c1c" stroke-width="0.95"/>
<ellipse cx="287.3" cy="266.3" rx="1.8" ry="1.8" fill="none" stroke="#1c1c1c" stroke-width="0.95"/>
<ellipse cx="288.0" cy="266.1" rx="1.8" ry="1.8" fill="none" stroke="#1c1c1c" stroke-width="0.95"/>
<ellipse cx="288.7" cy="266.0" rx="1.8" ry="1.8" fill="none" stroke="#1c1c1c" stroke-width="0.95"/>
<ellipse cx="289.4" cy="265.8" rx="1.8" ry="1.8" fill="none" stroke="#1c1c1c" stroke-width="0.95"/>
<ellipse cx="290.1" cy="265.7" rx="1.8" ry="1.8" fill="none" stroke="#1c1c1c" stroke-width="0.95"/>
<ellipse cx="290.8" cy="265.5" rx="1.8" ry="1.8" fill="none" stroke="#1c1c1c" stroke-width="0.95"/>
<ellipse cx="291.5" cy="265.4" rx="1.8" ry="1.8" fill="none" stroke="#1c1c1c" stroke-width="0.95"/>
<ellipse cx="292.2" cy="265.3" rx="1.8" ry="1.8" fill="none" stroke="#1c1c1c" stroke-width="0.95"/>
<ellipse cx="292.9" cy="265.1" rx="1.8" ry="1.8" fill="none" stroke="#1c1c1c" stroke-width="0.95"/>
<ellipse cx="293.6" cy="265.0" rx="1.8" ry="1.8" fill="none" stroke="#1c1c1c" stroke-width="0.95"/>
<ellipse cx="294.3" cy="264.8" rx="1.8" ry="1.8" fill="none" stroke="#1c1c1c" stroke-width="0.95"/>
<ellipse cx="295.0" cy="264.7" rx="1.8" ry="1.8" fill="none" stroke="#1c1c1c" stroke-width="0.95"/>
<ellipse cx="295.7" cy="264.6" rx="1.8" ry="1.8" fill="none" stroke="#1c1c1c" stroke-width="0.95"/>
<ellipse cx="296.4" cy="264.4" rx="1.8" ry="1.8" fill="none" stroke="#1c1c1c" stroke-width="0.95"/>
<ellipse cx="297.1" cy="264.3" rx="1.8" ry="1.8" fill="none" stroke="#1c1c1c" stroke-width="0.95"/>
<ellipse cx="297.8" cy="264.1" rx="1.8" ry="1.8" fill="none" stroke="#1c1c1c" stroke-width="0.95"/>
<ellipse cx="298.5" cy="264.0" rx="1.8" ry="1.8" fill="none" stroke="#1c1c1c" stroke-width="0.95"/>
<ellipse cx="299.2" cy="263.8" rx="1.8" ry="1.8" fill="none" stroke="#1c1c1c" stroke-width="0.95"/>
<ellipse cx="299.9" cy="263.7" rx="1.8" ry="1.8" fill="none" stroke="#1c1c1c" stroke-width="0.95"/>
<ellipse cx="300.6" cy="263.6" rx="1.8" ry="1.8" fill="none" stroke="#1c1c1c" stroke-width="0.95"/>
<ellipse cx="301.3" cy="263.4" rx="1.8" ry="1.8" fill="none" stroke="#1c1c1c" stroke-width="0.95"/>
<ellipse cx="302.0" cy="263.3" rx="1.8" ry="1.8" fill="none" stroke="#1c1c1c" stroke-width="0.95"/>
<ellipse cx="302.7" cy="263.1" rx="1.8" ry="1.8" fill="none" stroke="#1c1c1c" stroke-width="0.95"/>
<ellipse cx="303.4" cy="263.0" rx="1.8" ry="1.8" fill="none" stroke="#1c1c1c" stroke-width="0.95"/>
<ellipse cx="304.1" cy="262.8" rx="1.8" ry="1.8" fill="none" stroke="#1c1c1c" stroke-width="0.95"/>
<ellipse cx="304.8" cy="262.7" rx="1.8" ry="1.8" fill="none" stroke="#1c1c1c" stroke-width="0.95"/>
<ellipse cx="305.5" cy="262.6" rx="1.8" ry="1.8" fill="none" stroke="#1c1c1c" stroke-width="0.95"/>
<ellipse cx="306.2" cy="262.4" rx="1.8" ry="1.8" fill="none" stroke="#1c1c1c" stroke-width="0.95"/>
<ellipse cx="306.9" cy="262.3" rx="1.8" ry="1.8" fill="none" stroke="#1c1c1c" stroke-width="0.95"/>
<ellipse cx="307.6" cy="262.1" rx="1.8" ry="1.8" fill="none" stroke="#1c1c1c" stroke-width="0.95"/>
<ellipse cx="308.3" cy="262.0" rx="1.8" ry="1.8" fill="none" stroke="#1c1c1c" stroke-width="0.95"/>
<ellipse cx="79.3" cy="345.4" rx="2.0" ry="2.0" fill="none" stroke="#1c1c1c" stroke-width="0.95"/>
<ellipse cx="75.9" cy="353.1" rx="2.0" ry="2.0" fill="none" stroke="#1c1c1c" stroke-width="0.95"/>
<ellipse cx="75.4" cy="358.0" rx="2.0" ry="2.0" fill="none" stroke="#1c1c1c" stroke-width="0.95"/>
<ellipse cx="76.1" cy="360.1" rx="2.0" ry="2.0" fill="none" stroke="#1c1c1c" stroke-width="0.95"/>
<ellipse cx="76.5" cy="361.8" rx="2.0" ry="2.0" fill="none" stroke="#1c1c1c" stroke-width="0.95"/>
<ellipse cx="77.2" cy="363.9" rx="2.0" ry="2.0" fill="none" stroke="#1c1c1c" stroke-width="0.95"/>
<ellipse cx="80.1" cy="369.5" rx="2.0" ry="2.0" fill="none" stroke="#1c1c1c" stroke-width="0.95"/>
<ellipse cx="87.7" cy="335.2" rx="2.0" ry="2.0" fill="none" stroke="#1c1c1c" stroke-width="0.95"/>
<ellipse cx="88.4" cy="334.5" rx="2.0" ry="2.0" fill="none" stroke="#1c1c1c" stroke-width="0.95"/>
<ellipse cx="92.6" cy="331.2" rx="2.0" ry="2.0" fill="none" stroke="#1c1c1c" stroke-width="0.95"/>
<ellipse cx="93.3" cy="330.5" rx="2.0" ry="2.0" fill="none" stroke="#1c1c1c" stroke-width="0.95"/>
<ellipse cx="101.0" cy="325.4" rx="2.0" ry="2.0" fill="none" stroke="#1c1c1c" stroke-width="0.95"/>
<ellipse cx="103.8" cy="323.8" rx="2.0" ry="2.0" fill="none" stroke="#1c1c1c" stroke-width="0.95"/>
<ellipse cx="115.4" cy="317.3" rx="2.0" ry="2.0" fill="none" stroke="#1c1c1c" stroke-width="0.95"/>
<ellipse cx="120.3" cy="315.2" rx="2.0" ry="2.0" fill="none" stroke="#1c1c1c" stroke-width="0.95"/>
<ellipse cx="124.8" cy="313.1" rx="2.0" ry="2.0" fill="none" stroke="#1c1c1c" stroke-width="0.95"/>
<ellipse cx="128.9" cy="311.4" rx="2.0" ry="2.0" fill="none" stroke="#1c1c1c" stroke-width="0.95"/>
<ellipse cx="135.7" cy="308.2" rx="2.0" ry="2.0" fill="none" stroke="#1c1c1c" stroke-width="0.95"/>
<ellipse cx="137.1" cy="307.7" rx="2.0" ry="2.0" fill="none" stroke="#1c1c1c" stroke-width="0.95"/>
<ellipse cx="164.9" cy="297.9" rx="2.0" ry="2.0" fill="none" stroke="#1c1c1c" stroke-width="0.95"/>
<ellipse cx="135.7" cy="404.7" rx="2.0" ry="2.0" fill="none" stroke="#1c1c1c" stroke-width="0.95"/>
<ellipse cx="145.2" cy="408.5" rx="2.0" ry="2.0" fill="none" stroke="#1c1c1c" stroke-width="0.95"/>
<ellipse cx="185.2" cy="291.4" rx="2.0" ry="2.0" fill="none" stroke="#1c1c1c" stroke-width="0.95"/>
<ellipse cx="186.8" cy="291.0" rx="2.0" ry="2.0" fill="none" stroke="#1c1c1c" stroke-width="0.95"/>
<ellipse cx="189.9" cy="290.3" rx="2.0" ry="2.0" fill="none" stroke="#1c1c1c" stroke-width="0.95"/>
<ellipse cx="192.7" cy="289.7" rx="2.0" ry="2.0" fill="none" stroke="#1c1c1c" stroke-width="0.95"/>
<ellipse cx="195.2" cy="289.1" rx="2.0" ry="2.0" fill="none" stroke="#1c1c1c" stroke-width="0.95"/>
<ellipse cx="197.6" cy="288.5" rx="2.0" ry="2.0" fill="none" stroke="#1c1c1c" stroke-width="0.95"/>
<ellipse cx="198.7" cy="288.2" rx="2.0" ry="2.0" fill="none" stroke="#1c1c1c" stroke-width="0.95"/>
<ellipse cx="205.9" cy="285.0" rx="2.0" ry="2.0" fill="none" stroke="#1c1c1c" stroke-width="0.95"/>
<ellipse cx="216.3" cy="283.0" rx="2.0" ry="2.0" fill="none" stroke="#1c1c1c" stroke-width="0.95"/>
<ellipse cx="220.2" cy="282.0" rx="2.0" ry="2.0" fill="none" stroke="#1c1c1c" stroke-width="0.95"/>
<ellipse cx="223.3" cy="281.5" rx="2.0" ry="2.0" fill="none" stroke="#1c1c1c" stroke-width="0.95"/>
<ellipse cx="224.2" cy="281.3" rx="2.0" ry="2.0" fill="none" stroke="#1c1c1c" stroke-width="0.95"/>
<ellipse cx="233.1" cy="278.4" rx="2.0" ry="2.0" fill="none" stroke="#1c1c1c" stroke-width="0.95"/>
<ellipse cx="234.0" cy="278.2" rx="2.0" ry="2.0" fill="none" stroke="#1c1c1c" stroke-width="0.95"/>
<ellipse cx="234.6" cy="278.0" rx="2.0" ry="2.0" fill="none" stroke="#1c1c1c" stroke-width="0.95"/>
<ellipse cx="242.9" cy="276.2" rx="2.0" ry="2.0" fill="none" stroke="#1c1c1c" stroke-width="0.95"/>
<ellipse cx="250.6" cy="274.2" rx="2.0" ry="2.0" fill="none" stroke="#1c1c1c" stroke-width="0.95"/>
<ellipse cx="256.4" cy="272.9" rx="2.0" ry="2.0" fill="none" stroke="#1c1c1c" stroke-width="0.95"/>
<ellipse cx="260.9" cy="272.1" rx="2.0" ry="2.0" fill="none" stroke="#1c1c1c" stroke-width="0.95"/>
<ellipse cx="264.8" cy="271.0" rx="2.0" ry="2.0" fill="none" stroke="#1c1c1c" stroke-width="0.95"/>
<ellipse cx="266.7" cy="270.6" rx="2.0" ry="2.0" fill="none" stroke="#1c1c1c" stroke-width="0.95"/>
<ellipse cx="268.5" cy="270.3" rx="2.0" ry="2.0" fill="none" stroke="#1c1c1c" stroke-width="0.95"/>
<ellipse cx="270.4" cy="269.9" rx="2.0" ry="2.0" fill="none" stroke="#1c1c1c" stroke-width="0.95"/>
<ellipse cx="272.2" cy="269.6" rx="2.0" ry="2.0" fill="none" stroke="#1c1c1c" stroke-width="0.95"/>
<ellipse cx="274.1" cy="269.2" rx="2.0" ry="2.0" fill="none" stroke="#1c1c1c" stroke-width="0.95"/>
<ellipse cx="275.9" cy="268.8" rx="2.0" ry="2.0" fill="none" stroke="#1c1c1c" stroke-width="0.95"/>
<ellipse cx="277.8" cy="268.5" rx="2.0" ry="2.0" fill="none" stroke="#1c1c1c" stroke-width="0.95"/>
<ellipse cx="281.0" cy="267.7" rx="2.0" ry="2.0" fill="none" stroke="#1c1c1c" stroke-width="0.95"/>
<ellipse cx="284.0" cy="267.1" rx="2.0" ry="2.0" fill="none" stroke="#1c1c1c" stroke-width="0.95"/>
<text x="5.8" y="267.3" font-size="16" font-weight="bold" fill="#000">C</text>
<text transform="translate(157.80,475.10) scale(1.0972,1) translate(-0.00,0)" font-size="10.4" font-weight="bold" stroke="#000" stroke-width="0.3" fill="#000">qPCTei_DHP</text>
<text transform="translate(36.20,382.90) rotate(-90) scale(1.0444,1) translate(-0.00,0)" font-size="10.4" font-weight="bold" stroke="#000" stroke-width="0.3" fill="#000">lnPCTei_DHP</text>
<line x1="401.2" y1="266.9" x2="401.2" y2="438.9" stroke="#000" stroke-width="2"/>
<line x1="400.2" y1="437.9" x2="584.55" y2="437.9" stroke="#000" stroke-width="2"/>
<line x1="397.4" y1="267.9" x2="401.2" y2="267.9" stroke="#000" stroke-width="1.9"/>
<text transform="translate(396.20,270.90) scale(1.04,1)" font-size="8.5" font-weight="bold" fill="#000" stroke="#000" stroke-width="0.2" text-anchor="end">0.5</text>
<line x1="397.4" y1="324.4" x2="401.2" y2="324.4" stroke="#000" stroke-width="1.9"/>
<text transform="translate(396.20,327.40) scale(1.04,1)" font-size="8.5" font-weight="bold" fill="#000" stroke="#000" stroke-width="0.2" text-anchor="end">0.0</text>
<line x1="397.4" y1="380.9" x2="401.2" y2="380.9" stroke="#000" stroke-width="1.9"/>
<text transform="translate(396.20,383.90) scale(1.04,1)" font-size="8.5" font-weight="bold" fill="#000" stroke="#000" stroke-width="0.2" text-anchor="end">-0.5</text>
<line x1="397.4" y1="437.9" x2="401.2" y2="437.9" stroke="#000" stroke-width="1.9"/>
<text transform="translate(396.20,440.90) scale(1.04,1)" font-size="8.5" font-weight="bold" fill="#000" stroke="#000" stroke-width="0.2" text-anchor="end">-1.0</text>
<line x1="400.8" y1="437.9" x2="400.8" y2="441.09999999999997" stroke="#000" stroke-width="1.9"/>
<text transform="translate(403.1,448.1) rotate(-45) scale(1.04,1)" font-size="8.5" font-weight="bold" fill="#000" stroke="#000" stroke-width="0.25" text-anchor="end">0.0</text>
<line x1="437.4" y1="437.9" x2="437.4" y2="441.09999999999997" stroke="#000" stroke-width="1.9"/>
<text transform="translate(439.7,448.1) rotate(-45) scale(1.04,1)" font-size="8.5" font-weight="bold" fill="#000" stroke="#000" stroke-width="0.25" text-anchor="end">0.5</text>
<line x1="473.9" y1="437.9" x2="473.9" y2="441.09999999999997" stroke="#000" stroke-width="1.9"/>
<text transform="translate(476.2,448.1) rotate(-45) scale(1.04,1)" font-size="8.5" font-weight="bold" fill="#000" stroke="#000" stroke-width="0.25" text-anchor="end">1.0</text>
<line x1="510.4" y1="437.9" x2="510.4" y2="441.09999999999997" stroke="#000" stroke-width="1.9"/>
<text transform="translate(512.8,448.1) rotate(-45) scale(1.04,1)" font-size="8.5" font-weight="bold" fill="#000" stroke="#000" stroke-width="0.25" text-anchor="end">1.5</text>
<line x1="547.0" y1="437.9" x2="547.0" y2="441.09999999999997" stroke="#000" stroke-width="1.9"/>
<text transform="translate(549.3,448.1) rotate(-45) scale(1.04,1)" font-size="8.5" font-weight="bold" fill="#000" stroke="#000" stroke-width="0.25" text-anchor="end">2.0</text>
<line x1="583.5" y1="437.9" x2="583.5" y2="441.09999999999997" stroke="#000" stroke-width="1.9"/>
<text transform="translate(585.8,448.1) rotate(-45) scale(1.04,1)" font-size="8.5" font-weight="bold" fill="#000" stroke="#000" stroke-width="0.25" text-anchor="end">2.5</text>
<line x1="402.5" y1="284.5" x2="583" y2="284.5" stroke="#111" stroke-width="1.05" stroke-dasharray="1.75,1.25"/>
<line x1="397.3" y1="284.5" x2="401.2" y2="284.5" stroke="#000" stroke-width="1.7"/>
<line x1="402.5" y1="323.4" x2="583" y2="323.4" stroke="#111" stroke-width="1.05" stroke-dasharray="1.75,1.25"/>
<line x1="397.3" y1="323.4" x2="401.2" y2="323.4" stroke="#000" stroke-width="1.7"/>
<line x1="402.5" y1="361.6" x2="583" y2="361.6" stroke="#111" stroke-width="1.05" stroke-dasharray="1.75,1.25"/>
<line x1="397.3" y1="361.6" x2="401.2" y2="361.6" stroke="#000" stroke-width="1.7"/>
<text x="587.5" y="288.2" font-size="11.4" fill="#000">Mean + 1.96 SD</text>
<text x="587.5" y="326.8" font-size="11.4" fill="#000">Mean</text>
<text x="587.5" y="366.0" font-size="11.4" fill="#000">Mean - 1.96 SD</text>
<circle cx="452.0" cy="305.6" r="2.6" fill="#000"/>
<circle cx="453.8" cy="298.8" r="2.6" fill="#000"/>
<circle cx="454.8" cy="296.0" r="2.6" fill="#000"/>
<circle cx="456.0" cy="292.2" r="2.6" fill="#000"/>
<circle cx="458.3" cy="287.5" r="2.6" fill="#000"/>
<circle cx="462.6" cy="280.9" r="2.6" fill="#000"/>
<circle cx="469.1" cy="276.2" r="2.6" fill="#000"/>
<circle cx="470.9" cy="274.9" r="2.6" fill="#000"/>
<circle cx="472.9" cy="274.2" r="2.6" fill="#000"/>
<circle cx="477.2" cy="273.9" r="2.6" fill="#000"/>
<circle cx="478.7" cy="273.9" r="2.6" fill="#000"/>
<circle cx="482.9" cy="274.2" r="2.6" fill="#000"/>
<circle cx="485.2" cy="275.2" r="2.6" fill="#000"/>
<circle cx="487.2" cy="276.2" r="2.6" fill="#000"/>
<circle cx="489.7" cy="277.4" r="2.6" fill="#000"/>
<circle cx="492.2" cy="278.7" r="2.6" fill="#000"/>
<circle cx="501.8" cy="285.0" r="2.6" fill="#000"/>
<circle cx="446.2" cy="376.8" r="2.6" fill="#000"/>
<circle cx="446.2" cy="385.9" r="2.6" fill="#000"/>
<circle cx="508.8" cy="290.5" r="2.6" fill="#000"/>
<circle cx="510.4" cy="292.1" r="2.6" fill="#000"/>
<circle cx="512.2" cy="293.9" r="2.6" fill="#000"/>
<circle cx="513.9" cy="295.8" r="2.6" fill="#000"/>
<circle cx="515.7" cy="297.6" r="2.6" fill="#000"/>
<circle cx="519.2" cy="301.4" r="2.6" fill="#000"/>
<circle cx="520.6" cy="303.2" r="2.6" fill="#000"/>
<circle cx="522.0" cy="304.9" r="2.6" fill="#000"/>
<circle cx="524.1" cy="307.2" r="2.6" fill="#000"/>
<circle cx="525.8" cy="308.9" r="2.6" fill="#000"/>
<circle cx="527.6" cy="310.7" r="2.6" fill="#000"/>
<circle cx="529.0" cy="312.8" r="2.6" fill="#000"/>
<circle cx="530.4" cy="314.5" r="2.6" fill="#000"/>
<circle cx="531.8" cy="316.3" r="2.6" fill="#000"/>
<circle cx="533.2" cy="318.0" r="2.6" fill="#000"/>
<circle cx="534.6" cy="319.4" r="2.6" fill="#000"/>
<circle cx="535.6" cy="321.0" r="2.6" fill="#000"/>
<circle cx="536.7" cy="322.4" r="2.6" fill="#000"/>
<circle cx="537.7" cy="323.8" r="2.6" fill="#000"/>
<circle cx="538.8" cy="325.2" r="2.6" fill="#000"/>
<circle cx="539.8" cy="326.8" r="2.6" fill="#000"/>
<circle cx="540.9" cy="328.2" r="2.6" fill="#000"/>
<circle cx="541.9" cy="329.6" r="2.6" fill="#000"/>
<circle cx="543.0" cy="330.8" r="2.6" fill="#000"/>
<circle cx="544.0" cy="332.1" r="2.6" fill="#000"/>
<circle cx="545.1" cy="333.3" r="2.6" fill="#000"/>
<circle cx="546.1" cy="334.3" r="2.6" fill="#000"/>
<text x="354.2" y="269" font-size="16" font-weight="bold" fill="#000">D</text>
<text transform="translate(412.6,468.1) scale(1.0588,1)" font-size="9.4" font-weight="bold" fill="#000" stroke="#000" stroke-width="0.2">Average of <tspan font-style="italic">ln</tspan>PCT<tspan font-size="5.8" dy="1.8">(ei)</tspan><tspan dy="-1.8"> and </tspan><tspan font-style="italic">q</tspan>PCT<tspan font-size="5.8" dy="1.8">(ei)</tspan></text>
<text transform="translate(376.6,437.8) rotate(-90) scale(0.9001,1)" font-size="10.2" font-weight="bold" fill="#000" stroke="#000" stroke-width="0.3">Diffrence between <tspan font-style="italic">ln</tspan>PCT<tspan font-size="6.5" dy="2.0">(ei)</tspan><tspan dy="-2.0"> and </tspan><tspan font-style="italic">q</tspan>PCT<tspan font-size="6.5" dy="2.0">(ei)</tspan></text>
</svg>
</body></html>
